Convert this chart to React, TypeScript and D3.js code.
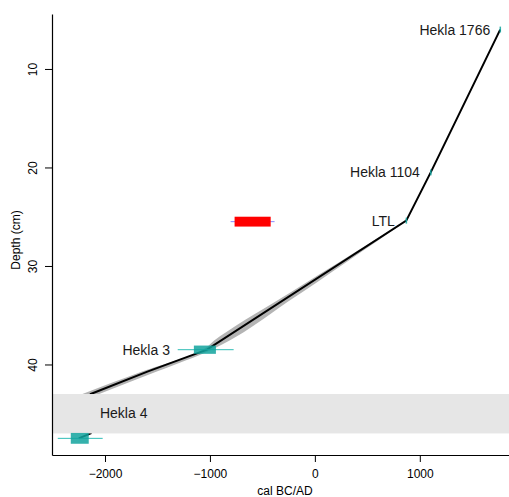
import React, { useEffect, useRef } from "react";
import * as d3 from "d3";

// Age-depth model (cal BC/AD vs depth in cm)
const modelAges = [1766, 1104, 871, -1028, -1590, -2136, -2136, -2250];
const modelDepths = [6, 20.5, 25.4, 38.5, 40.7, 43, 47, 47.5];

// Uncertainty envelope around the model
const envDepths = [25.4, 27.5, 29.6, 31.6, 33.66, 36, 37.5, 38.5, 40.7, 43];
const envMinAges = [871, 552, 235, -70, -382, -742, -950, -1065, -1640, -2215];
const envMaxAges = [871, 592, 302, 28, -262, -575, -800, -985, -1500, -2055];

// Slump interval
const slumpTop = 43;
const slumpBottom = 47;

// Dated tephra layers
const dateNames = ["Hekla 1766", "Hekla 1104", "LTL", "Hekla 3", "Hekla 4"];
const dateDepths = [6, 20.5, 25.4, 38.5, 47.5];
const dateBoxMin = [1760, 1098, 865, -1153, -2326];
const dateBoxMax = [1772, 1110, 877, -943, -2155];
const dateBoxHalfDepth = [0.3, 0.3, 0.3, 0.42, 0.55];
const dateRangeMin = [1760, 1098, 865, -1307, -2450];
const dateRangeMax = [1772, 1110, 877, -774, -2022];
const labelAges = [1671, 1001, 762, -1381, -2048];
const labelDepths = [6, 20.5, 25.4, 38.5, 44.9];
const labelAnchors = ["end", "end", "end", "end", "start"];

// Outlying date
const outlierDepth = 25.5;
const outlierBoxMin = -765;
const outlierBoxMax = -421;
const outlierRangeMin = -803;
const outlierRangeMax = -384;

const xTicks = [-2000, -1000, 0, 1000];
const yTicks = [10, 20, 30, 40];

const W = 509;
const H = 497;
const left = 52;
const right = 509;
const top = 14;
const bottom = 455;
const FONT = "'Liberation Sans', Arial, Helvetica, sans-serif";

export default function App() {
  const xAxisRef = useRef<SVGGElement>(null);
  const yAxisRef = useRef<SVGGElement>(null);

  const x = d3.scaleLinear().domain([-2505, 1850]).range([left, right]);
  const y = d3.scaleLinear().domain([4.42, 49.19]).range([top, bottom]);

  useEffect(() => {
    if (xAxisRef.current) {
      const g = d3.select(xAxisRef.current);
      g.selectAll("*").remove();
      g.call(
        d3
          .axisBottom(x)
          .tickValues(xTicks)
          .tickSizeInner(7)
          .tickSizeOuter(0)
          .tickPadding(5)
          .tickFormat((d) => d3.format("d")(d as number).replace("-", "\u2212"))
      );
      g.select(".domain").attr("stroke", "#000").attr("stroke-width", 1.2);
      g.selectAll(".tick line").attr("stroke", "#000").attr("stroke-width", 1);
      g.selectAll(".tick text")
        .attr("font-family", FONT)
        .attr("font-size", 12)
        .attr("fill", "#000")
        .attr("dy", "0.95em");
    }
    if (yAxisRef.current) {
      const g = d3.select(yAxisRef.current);
      g.selectAll("*").remove();
      g.call(d3.axisLeft(y).tickValues(yTicks).tickSizeInner(7).tickSizeOuter(0).tickFormat(d3.format("d")));
      g.select(".domain").attr("stroke", "#000").attr("stroke-width", 1.2);
      g.selectAll(".tick line").attr("stroke", "#000").attr("stroke-width", 1);
      g.selectAll(".tick text")
        .attr("font-family", FONT)
        .attr("font-size", 12)
        .attr("fill", "#000")
        .attr("x", null)
        .attr("dy", null)
        .attr("text-anchor", "middle")
        .attr("transform", "translate(-15.5,0) rotate(-90)");
    }
  });

  const line = d3
    .line<number>()
    .x((_, i) => x(modelAges[i]))
    .y((_, i) => y(modelDepths[i]));

  const envelope = d3
    .area<number>()
    .y((_, i) => y(envDepths[i]))
    .x0((_, i) => x(envMinAges[i]))
    .x1((_, i) => x(envMaxAges[i]))
    .curve(d3.curveMonotoneY);

  return (
    <svg
      width={W}
      height={H}
      style={{ position: "absolute", left: 0, top: 0, background: "#fff" }}
    >
      <defs>
        <clipPath id="plot-clip">
          <rect x={left} y={top} width={right - left} height={bottom - top} />
        </clipPath>
      </defs>
      <g clipPath="url(#plot-clip)">
        <path d={envelope(envDepths) || ""} fill="#b4b4b4" stroke="none" />
        <path d={line(modelAges) || ""} fill="none" stroke="#000" strokeWidth={2} />
        <rect
          x={left}
          y={y(slumpTop)}
          width={right - left}
          height={y(slumpBottom) - y(slumpTop)}
          fill="#e6e6e6"
        />
        {/* outlier date */}
        <line
          x1={x(outlierRangeMin)}
          x2={x(outlierRangeMax)}
          y1={y(outlierDepth)}
          y2={y(outlierDepth)}
          stroke="#8a8aff"
          strokeWidth={1}
        />
        <rect
          x={x(outlierBoxMin)}
          y={y(outlierDepth - 0.5)}
          width={x(outlierBoxMax) - x(outlierBoxMin)}
          height={y(outlierDepth + 0.5) - y(outlierDepth - 0.5)}
          fill="#ff0000"
        />
        {/* tephra dates */}
        {dateNames.map((name, i) => (
          <g key={name}>
            <line
              x1={x(dateRangeMin[i])}
              x2={x(dateRangeMax[i])}
              y1={y(dateDepths[i])}
              y2={y(dateDepths[i])}
              stroke="#30bdb6"
              strokeWidth={1}
            />
            <rect
              x={x(dateBoxMin[i])}
              y={y(dateDepths[i] - dateBoxHalfDepth[i])}
              width={Math.max(1.5, x(dateBoxMax[i]) - x(dateBoxMin[i]))}
              height={y(dateDepths[i] + dateBoxHalfDepth[i]) - y(dateDepths[i] - dateBoxHalfDepth[i])}
              fill="#12a39d"
              fillOpacity={0.85}
            />
          </g>
        ))}
      </g>
      {dateNames.map((name, i) => (
        <text
          key={name + "-label"}
          x={x(labelAges[i])}
          y={y(labelDepths[i])}
          dy="0.36em"
          textAnchor={labelAnchors[i] as "end" | "start"}
          fontFamily={FONT}
          fontSize={14}
          fill="#1a1a1a"
        >
          {name}
        </text>
      ))}
      <g ref={xAxisRef} transform={`translate(0,${bottom})`} />
      <g ref={yAxisRef} transform={`translate(${left},0)`} />
      <text
        x={285}
        y={495}
        textAnchor="middle"
        fontFamily={FONT}
        fontSize={12}
        fill="#000"
      >
        cal BC/AD
      </text>
      <text
        transform={`translate(20,240) rotate(-90)`}
        textAnchor="middle"
        fontFamily={FONT}
        fontSize={12}
        fill="#000"
      >
        Depth (cm)
      </text>
    </svg>
  );
}
